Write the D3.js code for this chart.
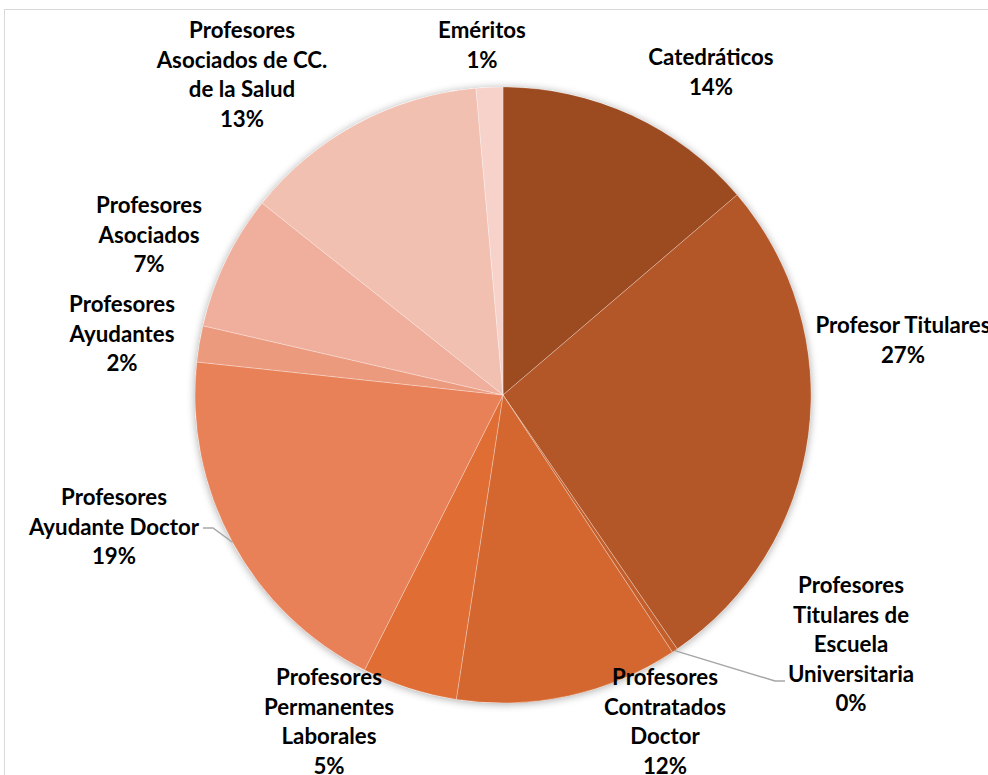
<!DOCTYPE html>
<html><head><meta charset="utf-8">
<script src="https://cdn.jsdelivr.net/npm/d3@7/dist/d3.min.js"></script>
<style>html,body{margin:0;padding:0;background:#fff;overflow:hidden}</style>
</head><body><svg id="c" width="988" height="775"></svg>
<script>
// ---- data ----
const categories = ["Catedráticos","Profesor Titulares","Profesores Titulares de Escuela Universitaria","Profesores Contratados Doctor","Profesores Permanentes Laborales","Profesores Ayudante Doctor","Profesores Ayudantes","Profesores Asociados","Profesores Asociados de CC. de la Salud","Eméritos"];
const values = [13.75, 26.7, 0.3, 11.7, 5.0, 19.3, 1.9, 7.1, 12.9, 1.4];
const labelLines = [
  ["Catedráticos"],
  ["Profesor Titulares"],
  ["Profesores","Titulares de","Escuela","Universitaria"],
  ["Profesores","Contratados","Doctor"],
  ["Profesores","Permanentes","Laborales"],
  ["Profesores","Ayudante Doctor"],
  ["Profesores","Ayudantes"],
  ["Profesores","Asociados"],
  ["Profesores","Asociados de CC.","de la Salud"],
  ["Eméritos"]
];
const colors = ["#9C4A20","#B35628","#C45E2A","#D4672F","#E06D34","#E98158","#EC9A7E","#F0AF9C","#F2C0B1","#F6D2CB"];

// ---- layout (label anchors: center x, first-line center y) ----
const labelPos = [[711,57],[903,325],[851,585],[665,677],[329,677],[114,497],[122,304],[149,205],[242,30],[482,30]];
const leaders = {2:[[775,681],[785,681]], 5:[[213,528],[203,528]]};

const svg = d3.select("#c");
const W = 988, H = 775;
const cx = 503, cy = 395, R = 308;

// frame
svg.append("rect").attr("x",4.5).attr("y",9.5).attr("width",1200).attr("height",1000)
  .attr("fill","#fff").attr("stroke","#d9d9d9").attr("stroke-width",1);

const defs = svg.append("defs");
const f = defs.append("filter").attr("id","sh").attr("x","-20%").attr("y","-20%").attr("width","140%").attr("height","140%");
f.append("feGaussianBlur").attr("in","SourceAlpha").attr("stdDeviation",4).attr("result","b");
f.append("feOffset").attr("in","b").attr("dx",0).attr("dy",1).attr("result","o");
f.append("feComponentTransfer").attr("in","o").attr("result","o2").append("feFuncA").attr("type","linear").attr("slope",0.35);
const m = f.append("feMerge"); m.append("feMergeNode").attr("in","o2"); m.append("feMergeNode").attr("in","SourceGraphic");

const total = d3.sum(values);
const pie = d3.pie().sort(null).value(d=>d)(values);
const arc = d3.arc().innerRadius(0).outerRadius(R);
const color = d3.scaleOrdinal().domain(d3.range(values.length)).range(colors);

const g = svg.append("g").attr("transform",`translate(${cx},${cy})`);
g.append("circle").attr("r",R).attr("fill","#fff").attr("filter","url(#sh)");
g.selectAll("path.s").data(pie).join("path").attr("class","s")
  .attr("d",arc).attr("fill",(d,i)=>color(i))
  .attr("stroke","rgba(255,255,255,0.35)").attr("stroke-width",0.8).attr("stroke-linejoin","round");

// leader lines
const outer = d3.arc().innerRadius(R).outerRadius(R);
Object.keys(leaders).forEach(k=>{
  const d = pie[+k];
  const p = outer.centroid(d);
  const pts = [[p[0]+cx,p[1]+cy]].concat(leaders[k]);
  svg.append("polyline").attr("points",pts.map(q=>q.join(",")).join(" "))
    .attr("fill","none").attr("stroke","#a6a6a6").attr("stroke-width",1.5);
});

// font sizing: match Calibri bold 18pt width
const fam = "Lato, 'Open Sans', sans-serif";
const probe = svg.append("text").attr("font-family",fam).attr("font-weight","bold").attr("font-size",24).text("Profesores");
const wProbe = probe.node().getComputedTextLength();
probe.remove();
const fs = 24*106/wProbe;
const lh = 29.5;

const labels = svg.append("g");
pie.forEach((d,i)=>{
  const pct = Math.round(d.value/total*100)+"%";
  const lines = labelLines[i].concat([pct]);
  const t = labels.append("text").attr("font-family",fam).attr("font-weight","bold")
    .attr("font-size",fs).attr("fill","#000").attr("text-anchor","middle");
  lines.forEach((ln,j)=>{
    t.append("tspan").attr("x",labelPos[i][0]).attr("y",labelPos[i][1]+j*lh).attr("dy","0.36em").text(ln);
  });
});
</script></body></html>
